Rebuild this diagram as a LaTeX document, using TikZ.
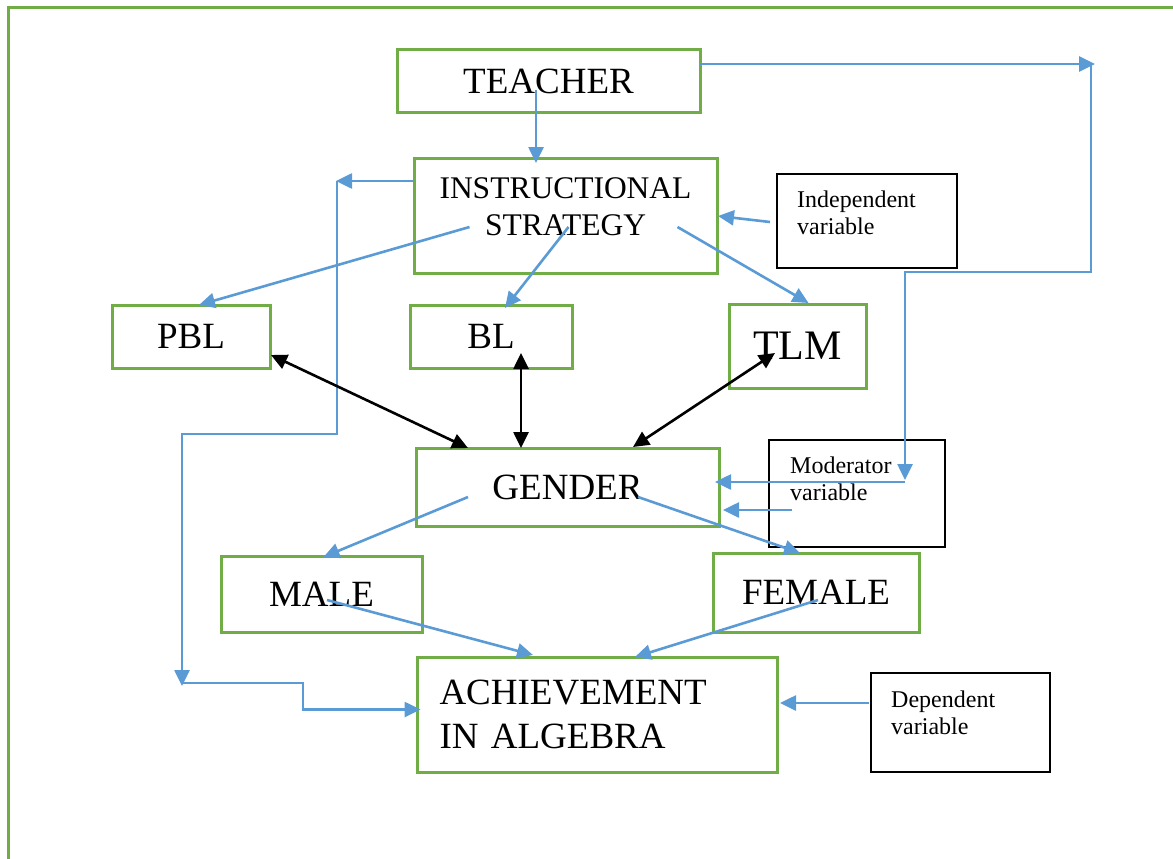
\documentclass[tikz,border=0pt]{standalone}
\usepackage{fontspec}
\setmainfont{Liberation Serif}
\usetikzlibrary{arrows.meta,calc}
\definecolor{grn}{HTML}{70AD47}
\definecolor{blu}{HTML}{5B9BD5}
\begin{document}
\begin{tikzpicture}[x=1pt,y=-1pt,
	box/.style={draw=grn,line width=3pt,inner sep=0pt,outer sep=0pt,font=\fontsize{37}{44}\selectfont},
	varbox/.style={draw=black,line width=2.2pt,inner sep=0pt,outer sep=0pt},
	vartext/.style={anchor=north west,align=left,inner sep=0pt,font=\fontsize{24}{27}\selectfont},
	link/.style={blu,line width=2.6pt,-{Triangle[length=16pt,width=15pt]}},
	twoway/.style={black,line width=2.6pt,{Triangle[length=16pt,width=15pt]}-{Triangle[length=16pt,width=15pt]}}]
	\useasboundingbox (0,0) rectangle (1173,859);
	\draw[grn,line width=3pt] (1173,8) -- (8,8) -- (8,859);
	% variables
	\node[box,minimum width=303pt,minimum height=62pt] (teacher) at (548.5,81) {TEACHER};
	\node[box,minimum width=303pt,minimum height=115pt,
		label={[align=center,inner sep=0pt,yshift=9pt,font=\fontsize{31.5}{37}\selectfont]center:{INSTRUCTIONAL\\STRATEGY}}] (strat) at (565.5,215.5) {};
	\node[box,minimum width=158pt,minimum height=63pt] (pbl) at (191,336.5) {PBL};
	\node[box,minimum width=162pt,minimum height=63pt] (bl) at (491,336.5) {BL};
	\node[box,minimum width=137pt,minimum height=84pt,font=\fontsize{42}{48}\selectfont] (tlm) at (797.5,346) {TLM};
	\node[box,minimum width=303pt,minimum height=78pt] (gender) at (567.5,487) {GENDER};
	\node[box,minimum width=201pt,minimum height=76pt] (male) at (321.5,594) {MALE};
	\node[box,minimum width=206pt,minimum height=79pt] (female) at (816,592.5) {FEMALE};
	\node[box,minimum width=360pt,minimum height=115pt,text width=316pt,align=left] (achieve) at (597.5,714.5) {ACHIEVEMENT\\IN ALGEBRA};
	% notes
	\node[varbox,minimum width=180pt,minimum height=94pt,
		label={[vartext,xshift=20pt,yshift=-17pt]north west:{Independent\\variable}}] (indep) at (867,221) {};
	\node[varbox,minimum width=176pt,minimum height=107pt,
		label={[vartext,xshift=21pt,yshift=-17pt]north west:{Moderator\\variable}}] (moder) at (857,493.5) {};
	\node[varbox,minimum width=179pt,minimum height=99pt,
		label={[vartext,xshift=20pt,yshift=-18pt]north west:{Dependent\\variable}}] (dep) at (960.5,722.5) {};
	\coordinate (topright) at (1095,64);
	\coordinate (modin) at (905,480);
	\coordinate (leftup) at (336,181);
	\coordinate (leftdown) at (182,686);
	% blue links
	\draw[link] ($(teacher.center)+(-12.5,9)$) -- ($(strat.north)+(-29.5,5)$);
	\draw[link] ($(teacher.north east)+(0,14)$) -- (topright);
	\draw[link] ($(topright)+(-4,0)$) -- ++(0,208) -| (modin);
	\draw[link] ($(modin)+(0,2)$) -- ($(gender.east)+(-4,-5)$);
	\draw[link] ($(strat.north west)+(0,23)$) -- (leftup);
	\draw[link] ($(leftup)+(1,0)$) -- ++(0,253) -| (leftdown);
	\draw[link] ($(leftdown)+(0,-3)$) -- ++(121,0) |- ($(achieve.west)+(3,-5)$);
	\draw[link] ($(strat.center)+(-96,11.5)$) -- ($(pbl.north)+(8,0)$);
	\draw[link] ($(strat.center)+(3,11.5)$) -- ($(bl.north)+(14,3)$);
	\draw[link] ($(strat.center)+(112,11.5)$) -- ($(tlm.north)+(11,-1)$);
	\draw[link] ($(indep.west)+(-7,1)$) -- ($(strat.east)+(1,0.5)$);
	\draw[link] ($(gender.center)+(-99.5,10)$) -- ($(male.north)+(2,1)$);
	\draw[link] ($(gender.center)+(70.5,10)$) -- ($(female.north)+(-16,0)$);
	\draw[link] ($(moder.west)+(23,16.5)$) -- ($(gender.east)+(4,23)$);
	\draw[link] ($(male.center)+(5.5,6)$) -- ($(achieve.north)+(-64.5,-2)$);
	\draw[link] ($(female.center)+(2,7.5)$) -- ($(achieve.north)+(37.5,0)$);
	\draw[link] ($(dep.west)+(-2,-19.5)$) -- ($(achieve.east)+(2.5,-11.5)$);
	% black two-way links
	\draw[twoway] ($(pbl.south east)+(1,-13)$) -- ($(gender.north)+(-99.5,0)$);
	\draw[twoway] ($(bl.center)+(30,16.5)$) -- ($(gender.north)+(-46.5,0)$);
	\draw[twoway] ($(tlm.center)+(-22.5,7)$) -- ($(gender.north)+(65.5,-1)$);
\end{tikzpicture}
\end{document}
